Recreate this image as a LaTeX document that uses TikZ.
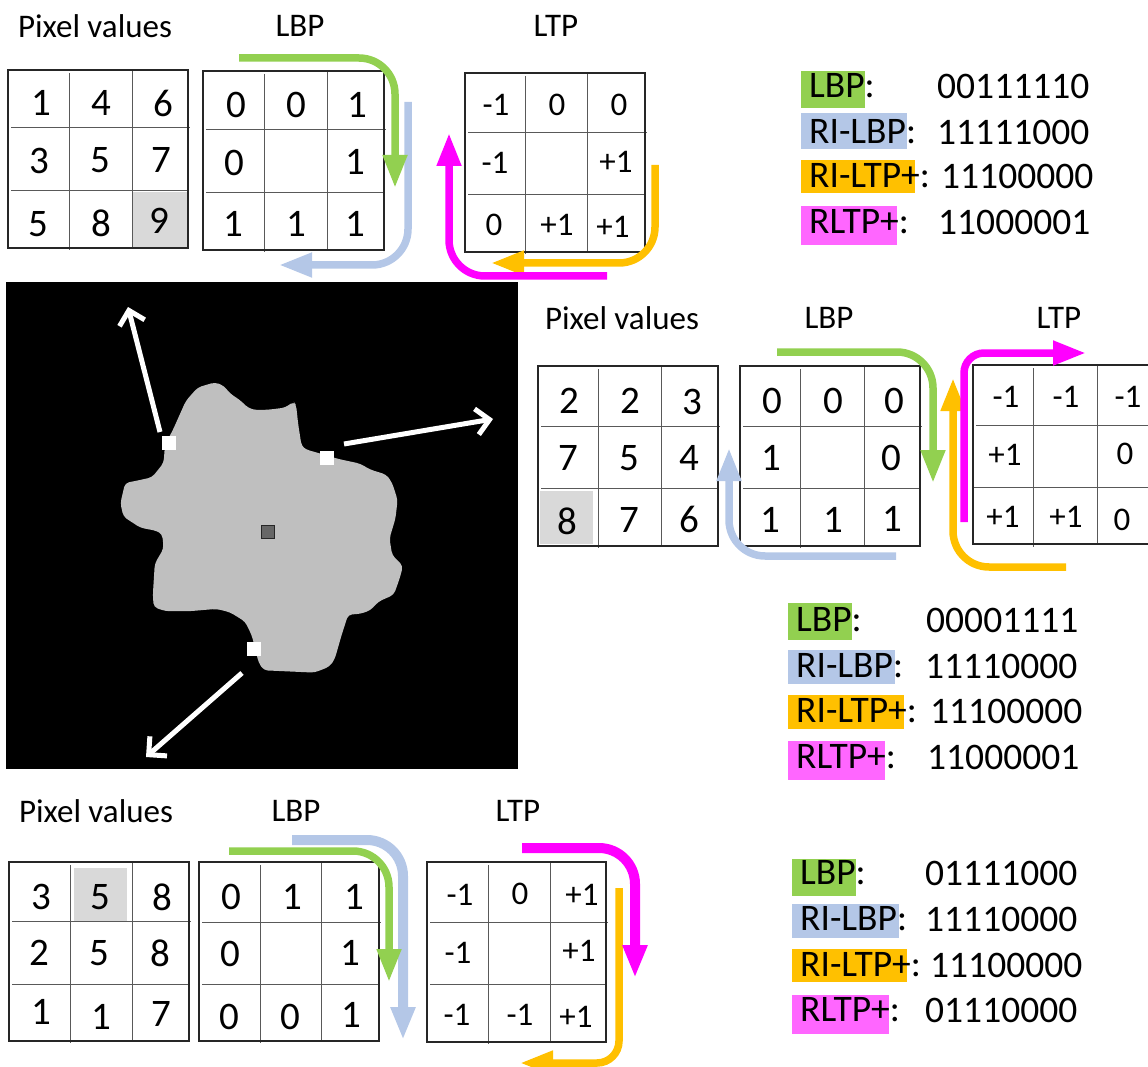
\documentclass[tikz,border=0pt]{standalone}
\usepackage{fontspec}
\setmainfont{Carlito}
\usetikzlibrary{arrows.meta,positioning}
\definecolor{lbpgreen}{HTML}{92D050}
\definecolor{rilbpblue}{HTML}{B4C7E7}
\definecolor{rioorange}{HTML}{FFC000}
\definecolor{rltpmagenta}{HTML}{FF00FF}
\definecolor{rltpbox}{HTML}{FF66FF}
\definecolor{cellgray}{HTML}{D9D9D9}
\definecolor{blobgray}{HTML}{BFBFBF}
\tikzstyle{title} = [inner sep=0, font=\fontsize{33}{35}\selectfont]
\tikzstyle{bigdigit} = [inner sep=0, font=\fontsize{39}{41}\selectfont]
\tikzstyle{smalldigit} = [inner sep=0, font=\fontsize{33}{35}\selectfont]
\tikzstyle{legendtext} = [inner sep=0, anchor=west, font=\fontsize{37.5}{40}\selectfont]
\tikzstyle{gridframe} = [line width=1.8pt, black!85]
\tikzstyle{gridrule} = [line width=1pt, black!65]
\tikzstyle{ribbon} = [line width=7.5pt, rounded corners=36pt, -{Triangle[length=33pt,width=23pt]}]
\tikzstyle{wideribbon} = [ribbon, line width=10pt]
\tikzstyle{marker} = [fill=white, inner sep=0, minimum size=14pt]
\tikzstyle{barb} = [white, line width=5pt, -{Straight Barb[length=13pt,width=26pt]}]

\begin{document}
\begin{tikzpicture}[x=1pt,y=-1pt]
	\useasboundingbox (0,0) rectangle (1148,1067);

	% black image with the shape
	\fill[black] (6,282) rectangle (518,769);
	\fill[blobgray, rounded corners=4pt] (215,382.3) -- (223.8,385.7) -- (229.9,393.4) -- (240,400.1) -- (248.5,408.2) -- (256.9,410.2)
		-- (270.5,409.5) -- (285.7,407.5) -- (293.4,401.5) -- (296.1,404.8) -- (298.2,424.3) -- (301.6,446.1)
		-- (305.9,449.5) -- (321.2,453.8) -- (338.1,458.9) -- (360,463.6) -- (370.2,469.6) -- (386.4,474.6)
		-- (392.2,483) -- (397.6,499.8) -- (395.5,518.3) -- (389.5,538.4) -- (392.2,555.2) -- (403,565.9)
		-- (399.6,578.7) -- (393.8,594.8) -- (378.6,601.5) -- (370.2,610.5) -- (360,613.9) -- (348.2,614.6)
		-- (341.4,635.7) -- (334.7,659.2) -- (329.6,666.6) -- (314.4,672.6) -- (263.7,670.3) -- (258.6,662.6)
		-- (251.9,635.7) -- (245.1,621.6) -- (229.9,612.2) -- (216.4,608.9) -- (189.3,611.2) -- (165.7,611.2)
		-- (153.8,607.2) -- (152.8,595.4) -- (154.8,563.6) -- (163.6,548.5) -- (162.3,534.4) -- (157.2,531)
		-- (140.3,527.7) -- (123.4,516.6) -- (120.4,503.2) -- (125.1,483) -- (138.6,480.3) -- (152.1,477.3)
		-- (163.6,462.9) -- (165,444.4) -- (172.4,431) -- (185.9,400.8) -- (197.8,387.4) -- cycle;

	\node[marker] (mark-a) at (169,443) {};
	\node[marker] (mark-b) at (327,458) {};
	\node[marker] (mark-c) at (254,649) {};
	\node[draw=black!85, line width=1.2pt, fill=black!60, inner sep=0, minimum size=13pt] (centre) at (268,532) {};

	\coordinate (a-start) at (160,432);
	\coordinate (a-end) at (128,307);
	\coordinate (b-start) at (344,444);
	\coordinate (b-end) at (493,419);
	\coordinate (c-start) at (242,673);
	\coordinate (c-end) at (146,757);
	\draw[barb] (a-start) -- (a-end);
	\draw[barb] (b-start) -- (b-end);
	\draw[barb] (c-start) -- (c-end);

	% highlighted cells
	\fill[cellgray] (133,192) rectangle (187,248);
	\fill[cellgray] (540,491) rectangle (593,544);
	\fill[cellgray] (74,868) rectangle (127,921);

	% grids, closed ones first
	\foreach \xa/\ya/\xb/\yb/\va/\vb/\ha/\hb in {8/70/188/248/69/132/128/191, 203/71/384/250/264/327/130/193,
		465/73/645/252/525/587/133/195, 538/366/718/546/598/661/426/488, 740/366/920/546/800/864/426/488,
		9/862/189/1041/70/132/921/984, 199/862/379/1041/260/321/922/984, 427/862/606/1042/488/550/922/984}{
		\draw[gridrule] (\va,\ya+3) -- (\va,\yb+2) (\vb,\ya) -- (\vb,\yb);
		\draw[gridrule] (\xa+3,\ha) -- (\xb+2,\ha) (\xa+3,\hb) -- (\xb,\hb);
		\draw[gridframe] (\xa,\ya) rectangle (\xb,\yb);
	}
	% this one runs off to the right
	\draw[gridrule] (1033,368) -- (1033,547) (1097,365) -- (1097,544) (976,425) -- (1148,425) (973,487) -- (1148,487);
	\draw[gridframe] (1148,365) -- (973,365) -- (973,544) -- (1148,544);

	% upper row
	\node[title] (pix-a) at (95,26) {Pixel values};
	\node[title] (lbp-a) at (300,26) {LBP};
	\node[title] (ltp-a) at (556,26) {LTP};
	\foreach \n/\x/\y/\t in {1/41/103/1, 2/101/103/4, 3/163/103/6, 4/39/161/3, 5/100/160/5, 6/161/160/7, 7/38/224/5, 8/101/223/8, 9/159/221/9,
		10/236/105/0, 11/296/105/0, 12/357/105/1, 13/234/163/0, 14/355/162/1, 15/233/224/1, 16/296/224/1, 17/355/224/1}
		\node[bigdigit] (val-a\n) at (\x,\y) {\t};
	\foreach \n/\x/\y/\t in {1/496/105/-1, 2/557/105/0, 3/619/105/0, 4/495/163/-1, 5/616/162/+1, 6/494/225/0, 7/557/225/+1, 8/613/227/+1}
		\node[smalldigit] (tern-a\n) at (\x,\y) {\t};

	\coordinate (rb-a1) at (408,102);
	\coordinate (rb-a2) at (279,265);
	\coordinate (rg-a1) at (239,58);
	\coordinate (rg-a2) at (395,188);
	\coordinate (ro-a1) at (655,165);
	\coordinate (ro-a2) at (491,263);
	\coordinate (rm-a1) at (607,276);
	\coordinate (rm-a2) at (449,133);
	\draw[ribbon, rilbpblue] (rb-a1) |- (rb-a2);
	\draw[ribbon, lbpgreen] (rg-a1) -| (rg-a2);
	\draw[ribbon, rioorange] (ro-a1) |- (ro-a2);
	\draw[ribbon, rltpmagenta] (rm-a1) -| (rm-a2);

	% middle row
	\node[title] (pix-b) at (622,318) {Pixel values};
	\node[title] (lbp-b) at (829,318) {LBP};
	\node[title] (ltp-b) at (1059,318) {LTP};
	\foreach \n/\x/\y/\t in {1/569/401/2, 2/630/401/2, 3/692/402/3, 4/568/458/7, 5/629/458/5, 6/689/458/4, 7/567/521/8, 8/629/520/7, 9/689/519/6,
		10/772/401/0, 11/833/401/0, 12/894/401/0, 13/771/458/1, 14/891/458/0, 15/770/520/1, 16/833/520/1, 17/892/519/1}
		\node[bigdigit] (val-b\n) at (\x,\y) {\t};
	\foreach \n/\x/\y/\t in {1/1006/397/-1, 2/1066/397/-1, 3/1128/397/-1, 4/1005/455/+1, 5/1125/454/0, 6/1003/517/+1, 7/1066/517/+1, 8/1122/520/0}
		\node[smalldigit] (tern-b\n) at (\x,\y) {\t};

	\coordinate (rb-b1) at (896,556);
	\coordinate (rb-b2) at (729,448);
	\coordinate (rg-b1) at (777,352);
	\coordinate (rg-b2) at (933,483);
	\coordinate (ro-b1) at (1066,567);
	\coordinate (ro-b2) at (953,378);
	\coordinate (rm-b1) at (964,522);
	\coordinate (rm-b2) at (1086,353);
	\draw[ribbon, rilbpblue] (rb-b1) -| (rb-b2);
	\draw[ribbon, lbpgreen] (rg-b1) -| (rg-b2);
	\draw[ribbon, rioorange] (ro-b1) -| (ro-b2);
	\draw[ribbon, rltpmagenta, rounded corners=20pt] (rm-b1) |- (rm-b2);

	% lower row
	\node[title] (pix-c) at (96,811) {Pixel values};
	\node[title] (lbp-c) at (296,811) {LBP};
	\node[title] (ltp-c) at (518,811) {LTP};
	\foreach \n/\x/\y/\t in {1/41/897/3, 2/100/897/5, 3/162/897/8, 4/39/953/2, 5/99/953/5, 6/160/953/8, 7/41/1012/1, 8/101/1017/1, 9/161/1014/7,
		10/231/897/0, 11/292/897/1, 12/354/897/1, 13/230/954/0, 14/350/953/1, 15/229/1017/0, 16/290/1017/0, 17/351/1015/1}
		\node[bigdigit] (val-c\n) at (\x,\y) {\t};
	\foreach \n/\x/\y/\t in {1/460/895/-1, 2/520/894/0, 3/582/895/+1, 4/458/953/-1, 5/579/951/+1, 6/457/1015/-1, 7/520/1015/-1, 8/576/1017/+1}
		\node[smalldigit] (tern-c\n) at (\x,\y) {\t};

	\coordinate (rb-c1) at (292,840);
	\coordinate (rb-c2) at (403,1040);
	\coordinate (rg-c1) at (229,851);
	\coordinate (rg-c2) at (389,982);
	\coordinate (ro-c1) at (619,888);
	\coordinate (ro-c2) at (520,1063);
	\coordinate (rm-c1) at (522,848);
	\coordinate (rm-c2) at (635,978);
	\draw[wideribbon, rilbpblue] (rb-c1) -| (rb-c2);
	\draw[ribbon, lbpgreen] (rg-c1) -| (rg-c2);
	\draw[ribbon, rioorange, rounded corners=22pt] (ro-c1) |- (ro-c2);
	\draw[wideribbon, rltpmagenta] (rm-c1) -| (rm-c2);

	% legend patches
	\fill[lbpgreen] (801,71) rectangle (865,108);
	\fill[rilbpblue] (801,113) rectangle (907,149);
	\fill[rioorange] (801,160) rectangle (915,193);
	\fill[rltpbox] (801,206) rectangle (897,245);
	\fill[lbpgreen] (788,603) rectangle (852,640);
	\fill[rilbpblue] (788,650) rectangle (895,684);
	\fill[rioorange] (788,695) rectangle (904,729);
	\fill[rltpbox] (788,741) rectangle (885,780);
	\fill[lbpgreen] (792,859) rectangle (856,896);
	\fill[rilbpblue] (792,904) rectangle (899,938);
	\fill[rioorange] (792,949) rectangle (907,982);
	\fill[rltpbox] (792,995) rectangle (889,1034);

	% legend texts
	\foreach \n/\x/\y/\t/\xn/\b in {a1/809/86/LBP:/937/00111110, a2/809/132/RI-LBP:/937/11111000, a3/809/176/RI-LTP+:/941/11100000, a4/809/222/RLTP+:/938/11000001,
		b1/796/620/LBP:/926/00001111, b2/796/666/RI-LBP:/925/11110000, b3/796/711/RI-LTP+:/930/11100000, b4/796/757/RLTP+:/927/11000001,
		c1/800/873/LBP:/925/01111000, c2/800/919/RI-LBP:/925/11110000, c3/800/965/RI-LTP+:/930/11100000, c4/800/1010/RLTP+:/925/01110000}{
		\node[legendtext] (name-\n) at (\x,\y) {\t};
		\node[legendtext] (code-\n) at (\xn,\y) {\b};
	}
\end{tikzpicture}
\end{document}
